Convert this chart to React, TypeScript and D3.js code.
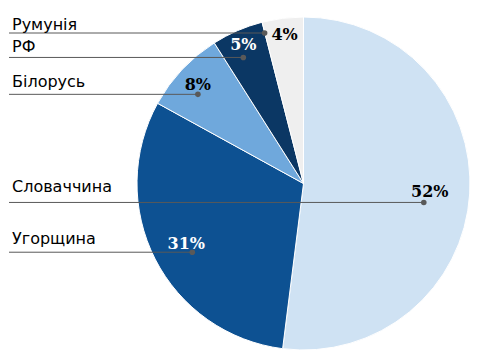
import React, { useEffect, useRef } from 'react';
import * as d3 from 'd3';

// shares, clockwise from 12 o'clock
const countries = ['Словаччина', 'Угорщина', 'Білорусь', 'РФ', 'Румунія'];
const shares = [52, 31, 8, 5, 4];
const colors = ['#cfe2f3', '#0d5192', '#6fa8dc', '#0b3764', '#efefef'];
const labelColors = ['#000', '#fff', '#000', '#fff', '#000'];
// where the percent label sits, as a fraction of the radius
const labelRadius = [0.76, 0.79, 0.87, 0.91, 0.905];
// how far the leader dot sits below the label centre
const dotDrop = [11, 9, 10, 13, -1];
// gap between the country name and its leader line
const nameLift = [10, 8, 7, 5, 3];

const W = 484;
const H = 360;

const App = () => {
    const svgRef = useRef<SVGSVGElement>(null);

    useEffect(() => {
        const svg = d3.select(svgRef.current);
        svg.selectAll('*').remove();

        const cx = 303.5;
        const cy = 183.5;
        const r = 166.5;

        const pie = d3.pie<number>().sort(null).value(d => d);
        const arcs = pie(shares);
        const arc = d3.arc<d3.PieArcDatum<number>>().innerRadius(0).outerRadius(r);

        const g = svg.append('g').attr('transform', `translate(${cx},${cy})`);

        g.selectAll('path')
            .data(arcs)
            .enter()
            .append('path')
            .attr('d', arc)
            .attr('fill', (d, i) => colors[i])
            .attr('stroke', '#fff')
            .attr('stroke-width', 1);

        // label anchors
        const pts = arcs.map((d, i) => {
            const la = d3.arc<d3.PieArcDatum<number>>()
                .innerRadius(r * labelRadius[i])
                .outerRadius(r * labelRadius[i]);
            const [x, y] = la.centroid(d);
            return { x: x + cx, y: y + cy };
        });

        // dot at end of leader: under the label, except the small last one (left of it)
        const dots = pts.map((p, i) => i === pts.length - 1
            ? { x: p.x - 20, y: p.y + dotDrop[i] }
            : { x: p.x - (i === 0 ? 6 : i === 1 ? -6 : 0), y: p.y + dotDrop[i] });

        const lineX0 = 9;

        svg.selectAll('.leader')
            .data(dots)
            .enter()
            .append('line')
            .attr('x1', lineX0)
            .attr('x2', d => d.x)
            .attr('y1', d => d.y)
            .attr('y2', d => d.y)
            .attr('stroke', '#595959')
            .attr('stroke-width', 1);

        svg.selectAll('.dot')
            .data(dots)
            .enter()
            .append('circle')
            .attr('cx', d => d.x)
            .attr('cy', d => d.y)
            .attr('r', 2.8)
            .attr('fill', '#595959');

        svg.selectAll('.pct')
            .data(arcs)
            .enter()
            .append('text')
            .attr('x', (d, i) => pts[i].x)
            .attr('y', (d, i) => pts[i].y)
            .attr('dy', '0.35em')
            .attr('text-anchor', 'middle')
            .style('font-family', '"DejaVu Serif", serif')
            .style('font-weight', 'bold')
            .style('font-size', '16px')
            .attr('fill', (d, i) => labelColors[i])
            .text(d => `${d.data}%`);

        svg.selectAll('.name')
            .data(countries)
            .enter()
            .append('text')
            .attr('x', 12)
            .attr('y', (d, i) => dots[i].y - nameLift[i])
            .style('font-family', '"DejaVu Sans", sans-serif')
            .style('font-size', '16px')
            .attr('fill', '#000')
            .text(d => d);
    }, []);

    return (
        <svg
            ref={svgRef}
            width={W}
            height={H}
            style={{ position: 'absolute', left: 0, top: 0, background: '#fff' }}
        />
    );
};

export default App;
